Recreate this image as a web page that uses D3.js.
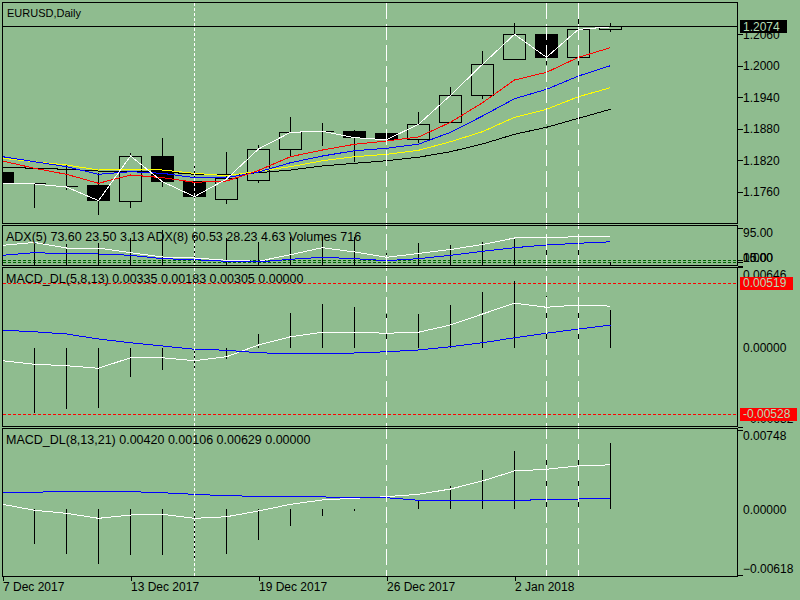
<!DOCTYPE html>
<html>
<head>
  <meta charset="UTF-8" />
  <title>EURUSD,Daily</title>
  <script src="https://d3js.org/d3.v7.min.js"></script>
  <style>
    body { margin: 0; background: #8fbc8f; }
    svg { display: block; shape-rendering: crispEdges; }
    text { font-family: "Liberation Sans", Arial, sans-serif; }
  </style>
</head>
<body>
  <svg id="chart" width="800" height="600"></svg>
  <script>
    // ---- data ----
    const dates = ["7 Dec 2017", "8 Dec 2017", "11 Dec 2017", "12 Dec 2017", "13 Dec 2017",
      "14 Dec 2017", "15 Dec 2017", "18 Dec 2017", "19 Dec 2017", "20 Dec 2017",
      "21 Dec 2017", "22 Dec 2017", "26 Dec 2017", "27 Dec 2017", "28 Dec 2017",
      "29 Dec 2017", "2 Jan 2018", "3 Jan 2018", "4 Jan 2018", "5 Jan 2018"];

    const open  = [1.17970, 1.17760, 1.17700, 1.17709, 1.17410, 1.18261, 1.17790, 1.17455, 1.17817, 1.18408,
                   1.18740, 1.18756, 1.18718, 1.18598, 1.18922, 1.19429, 1.20122, 1.20598, 1.20160, 1.20693];
    const high  = [1.18050, 1.17771, 1.18122, 1.17950, 1.18331, 1.18629, 1.18128, 1.18350, 1.18490, 1.19023,
                   1.18903, 1.18775, 1.18800, 1.19118, 1.19594, 1.20280, 1.20819, 1.20680, 1.20922, 1.20808];
    const low   = [1.17700, 1.17295, 1.17632, 1.17156, 1.17295, 1.17695, 1.17442, 1.17366, 1.17771, 1.18286,
                   1.18476, 1.18171, 1.18528, 1.18533, 1.18900, 1.19366, 1.20110, 1.20013, 1.20013, 1.20648];
    const close = [1.17752, 1.17747, 1.17690, 1.17429, 1.18280, 1.17790, 1.17505, 1.17842, 1.18413, 1.18731,
                   1.18750, 1.18629, 1.18590, 1.18884, 1.19436, 1.20027, 1.20598, 1.20160, 1.20693, 1.20740];

    // moving averages on the price window
    const maRed    = [1.18185, 1.18046, 1.17931, 1.17760, 1.17918, 1.17867, 1.17779, 1.17804, 1.18004, 1.18267,
                      1.18394, 1.18503, 1.18566, 1.18642, 1.18922, 1.19295, 1.19728, 1.19874, 1.20160, 1.20343];
    const maBlue   = [1.18267, 1.18171, 1.18076, 1.17931, 1.17981, 1.17950, 1.17867, 1.17867, 1.17975, 1.18152,
                      1.18280, 1.18381, 1.18427, 1.18505, 1.18731, 1.19042, 1.19371, 1.19550, 1.19804, 1.20000];
    const maYellow = [1.18236, 1.18171, 1.18109, 1.18013, 1.18032, 1.18013, 1.17950, 1.17905, 1.17989, 1.18076,
                      1.18190, 1.18267, 1.18312, 1.18389, 1.18552, 1.18743, 1.19017, 1.19170, 1.19410, 1.19581];
    const maBlack  = [1.18065, 1.18046, 1.18027, 1.17994, 1.17994, 1.17981, 1.17931, 1.17918, 1.17962, 1.18013,
                      1.18090, 1.18141, 1.18190, 1.18257, 1.18362, 1.18509, 1.18693, 1.18827, 1.18998, 1.19170];

    const priceTicks = [1.2060, 1.2000, 1.1940, 1.1880, 1.1820, 1.1760];
    const bidPrice = 1.2074;

    // ADX window
    const adx5 = [51.8, 58.8, 45, 45, 33.3, 22.5, 20, 14.3, 11.8, 28.3,
                  45.8, 35, 21.8, 31.3, 41.3, 53.8, 70, 71.5, 73, 73.6];
    const adx8 = [26.8, 33.3, 30.8, 30, 26.8, 18.3, 15.8, 11.8, 10, 16.8,
                  21.8, 18.3, 13.3, 18.3, 26.8, 36.8, 45.8, 52.5, 56.8, 60.53];
    const volumes = [5000, 4730, 4660, 4880, 6140, 7880, 6530, 6010, 5180, 6300,
                     6290, 6310, 2630, 4950, 4500, 5180, 6300, 5850, 6980, 716];
    const adxLevels = [15, 10];
    const adxTicks = [95, 15, 10, 0];

    // MACD_DL(5,8,13)
    const macd1Main   = [-0.00102, -0.00130, -0.00142, -0.00162, -0.00078, -0.00078, -0.00102, -0.00070, 0.00024, 0.00090,
                         0.00126, 0.00126, 0.00118, 0.00126, 0.00184, 0.00272, 0.00358, 0.00326, 0.00344, 0.00335];
    const macd1Signal = [0.00142, 0.00130, 0.00112, 0.00072, 0.00042, 0.00016, -0.00010, -0.00018, -0.00038, -0.00046,
                         -0.00046, -0.00040, -0.00030, -0.00016, 0.00010, 0.00042, 0.00082, 0.00118, 0.00152, 0.00183];
    const macd1Hist   = [-0.00528, -0.00518, -0.00486, -0.00478, -0.00230, -0.00176, -0.00184, -0.00088, 0.00112, 0.00280,
                         0.00352, 0.00328, 0.00272, 0.00272, 0.00344, 0.00448, 0.00536, 0.00418, 0.00392, 0.00305];
    const macd1Levels = [0.00519, -0.00528];
    const macd1Ticks = [0.00646, 0, -0.00632];

    // MACD_DL(8,13,21)
    const macd2Main   = [0.00048, -0.00008, -0.00037, -0.00084, -0.00053, -0.00046, -0.00084, -0.00069, -0.00015, 0.00048,
                         0.00089, 0.00105, 0.00120, 0.00142, 0.00192, 0.00268, 0.00362, 0.00378, 0.00410, 0.00420];
    const macd2Signal = [0.00155, 0.00161, 0.00171, 0.00171, 0.00167, 0.00157, 0.00142, 0.00129, 0.00123, 0.00120,
                         0.00117, 0.00114, 0.00110, 0.00086, 0.00086, 0.00086, 0.00086, 0.00091, 0.00098, 0.00106];
    const macd2Hist   = [-0.00250, -0.00329, -0.00417, -0.00512, -0.00427, -0.00427, -0.00461, -0.00417, -0.00288, -0.00154,
                         -0.00059, -0.00015, 0.00020, 0.00089, 0.00220, 0.00374, 0.00550, 0.00569, 0.00620, 0.00629];
    const macd2Ticks = [0.00748, 0, -0.00618];

    const dateTicks = ["7 Dec 2017", "13 Dec 2017", "19 Dec 2017", "26 Dec 2017", "2 Jan 2018"];
    const dotLineDates = ["15 Dec 2017"];
    const dashLineDates = ["26 Dec 2017", "3 Jan 2018", "4 Jan 2018"];

    // ---- layout ----
    const svg = d3.select("#chart");
    const left = 2.5, right = 737.5;
    const panels = {
      main:  { top: 2.5,   bottom: 223.5 },
      adx:   { top: 225.5, bottom: 265.5 },
      macd1: { top: 267.5, bottom: 426.5 },
      macd2: { top: 428.5, bottom: 576.5 }
    };
    const labelColor = "#b4dcb4";

    svg.append("rect").attr("width", 800).attr("height", 600).attr("fill", "#8fbc8f");

    // ---- scales ----
    const x = d3.scalePoint().domain(dates).range([2.5, 610.5]);
    const yMain = d3.scaleLinear().domain([1.1760, 1.2000]).range([191.7, 65.7]);
    const yAdx = d3.scaleLinear().domain([0, 95]).range([266, 228]);
    const yVol = d3.scaleLinear().domain([0, 9000]).range([265, 225]);
    const yM1 = d3.scaleLinear().domain([0, 0.00646]).range([348, 267.25]);
    const yM2 = d3.scaleLinear().domain([0, 0.00748]).range([509.4, 430]);

    // clip paths per window
    const defs = svg.append("defs");
    Object.entries(panels).forEach(([k, p]) => {
      defs.append("clipPath").attr("id", "clip-" + k)
        .append("rect").attr("x", left + 0.5).attr("y", p.top + 0.5)
        .attr("width", right - left - 1).attr("height", p.bottom - p.top - 1);
    });
    const layer = k => svg.append("g").attr("clip-path", `url(#clip-${k})`);

    const lineOf = (arr, y) => d3.line().x((d, i) => x(dates[i])).y(d => y(d))(arr);
    function drawLine(g, arr, y, color) {
      g.append("path").attr("d", lineOf(arr, y))
        .attr("fill", "none").attr("stroke", color).attr("stroke-width", 1);
    }
    function drawLevel(g, v, y, color) {
      g.append("line").attr("x1", left).attr("x2", right)
        .attr("y1", y(v)).attr("y2", y(v))
        .attr("stroke", color).attr("stroke-dasharray", "3,2");
    }
    function drawHist(g, arr, y) {
      g.selectAll(null).data(arr).join("line")
        .attr("x1", (d, i) => x(dates[i])).attr("x2", (d, i) => x(dates[i]))
        .attr("y1", y(0)).attr("y2", d => y(d))
        .attr("stroke", "#000");
    }

    // ---- price window ----
    const gMain = layer("main");
    dates.forEach((dt, i) => {
      const cx = x(dt);
      const top = yMain(Math.max(open[i], close[i]));
      const bot = yMain(Math.min(open[i], close[i]));
      const bull = close[i] >= open[i];
      gMain.append("line").attr("x1", cx).attr("x2", cx)
        .attr("y1", yMain(high[i])).attr("y2", top).attr("stroke", "#000");
      gMain.append("line").attr("x1", cx).attr("x2", cx)
        .attr("y1", bot).attr("y2", yMain(low[i])).attr("stroke", "#000");
      if (bot - top < 1) {
        gMain.append("line").attr("x1", cx - 11).attr("x2", cx + 11)
          .attr("y1", top).attr("y2", top).attr("stroke", "#000");
      } else {
        gMain.append("rect").attr("x", cx - 11).attr("y", top)
          .attr("width", 22).attr("height", bot - top)
          .attr("fill", bull ? "none" : "#000").attr("stroke", "#000");
      }
    });
    drawLine(gMain, maBlack, yMain, "#000");
    drawLine(gMain, maYellow, yMain, "#ffff00");
    drawLine(gMain, maBlue, yMain, "#0000ff");
    drawLine(gMain, maRed, yMain, "#ff0000");
    drawLine(gMain, close, yMain, "#ffffff");

    // ---- ADX window ----
    const gAdx = layer("adx");
    adxLevels.forEach(v => drawLevel(gAdx, v, yAdx, "#006400"));
    drawHist(gAdx, volumes, yVol);
    drawLine(gAdx, adx5, yAdx, "#ffffff");
    drawLine(gAdx, adx8, yAdx, "#0000ff");

    // ---- MACD windows ----
    const gM1 = layer("macd1");
    macd1Levels.forEach(v => drawLevel(gM1, v, yM1, "#ff0000"));
    drawHist(gM1, macd1Hist, yM1);
    drawLine(gM1, macd1Main, yM1, "#ffffff");
    drawLine(gM1, macd1Signal, yM1, "#0000ff");

    const gM2 = layer("macd2");
    drawHist(gM2, macd2Hist, yM2);
    drawLine(gM2, macd2Main, yM2, "#ffffff");
    drawLine(gM2, macd2Signal, yM2, "#0000ff");

    // vertical separators
    const gV = svg.append("g");
    gV.selectAll(null).data(dotLineDates).join("line")
      .attr("x1", d => x(d)).attr("x2", d => x(d))
      .attr("y1", panels.main.top).attr("y2", panels.macd2.bottom)
      .attr("stroke", "#fff").attr("stroke-dasharray", "3,2");
    gV.selectAll(null).data(dashLineDates).join("line")
      .attr("x1", d => x(d)).attr("x2", d => x(d))
      .attr("y1", panels.main.top).attr("y2", panels.macd2.bottom)
      .attr("stroke", "#fff").attr("stroke-dasharray", "16,5");

    // bid line
    svg.append("line").attr("x1", left).attr("x2", right)
      .attr("y1", yMain(bidPrice)).attr("y2", yMain(bidPrice)).attr("stroke", "#000");

    // window frames
    Object.values(panels).forEach(p => {
      svg.append("rect").attr("x", left).attr("y", p.top)
        .attr("width", right - left).attr("height", p.bottom - p.top)
        .attr("fill", "none").attr("stroke", "#000");
    });

    // ---- right axes ----
    function drawRightAxis(scale, values, fmt, p, hideZeroTick) {
      const g = svg.append("g").attr("transform", `translate(${right},0)`)
        .call(d3.axisRight(scale).tickValues(values).tickSize(5).tickPadding(0.5).tickFormat(fmt));
      g.attr("font-size", 12);
      g.select(".domain").remove();
      g.selectAll(".tick text").attr("fill", "#000")
        .attr("y", d => {
          const y = scale(d);
          return Math.min(Math.max(y, p.top + 7), p.bottom - 7.5) - y;
        });
      if (hideZeroTick) g.selectAll(".tick line").filter(d => d === 0).remove();
      return g;
    }
    drawRightAxis(yMain, priceTicks, d3.format(".4f"), panels.main, false);
    drawRightAxis(yAdx, adxTicks, d3.format(".2f"), panels.adx, false);
    drawRightAxis(yM1, macd1Ticks, d3.format(".5f"), panels.macd1, true);
    drawRightAxis(yM2, macd2Ticks, d3.format(".5f"), panels.macd2, true);

    // price tags
    function priceTag(y, text, bg) {
      const g = svg.append("g");
      const rect = g.append("rect").attr("x", 740).attr("y", y - 6.5).attr("height", 13).attr("fill", bg);
      const t = g.append("text").attr("x", 743).attr("y", y + 4.3)
        .attr("font-size", 12).attr("fill", labelColor).text(text);
      rect.attr("width", t.node().getComputedTextLength() + 10);
    }
    priceTag(yMain(bidPrice), d3.format(".4f")(bidPrice), "#000");
    macd1Levels.forEach(v => priceTag(yM1(v), d3.format(".5f")(v).replace("−", "-"), "#ff0000"));

    // ---- time axis ----
    const gx = svg.append("g").attr("transform", `translate(0,${panels.macd2.bottom})`)
      .call(d3.axisBottom(x).tickValues(dateTicks).tickSize(4).tickPadding(1.5));
    gx.attr("font-size", 12);
    gx.select(".domain").remove();
    gx.selectAll(".tick text").attr("text-anchor", "start").attr("fill", "#000");

    // ---- window titles ----
    const titles = [
      { text: "EURUSD,Daily", y: 16.5, size: 11, x: 7 },
      { text: "ADX(5) 73.60 23.50 3.13 ADX(8) 60.53 28.23 4.63 Volumes 716", y: 240.5, size: 12.5, x: 6 },
      { text: "MACD_DL(5,8,13) 0.00335 0.00183 0.00305 0.00000", y: 282.5, size: 12.5, x: 6 },
      { text: "MACD_DL(8,13,21) 0.00420 0.00106 0.00629 0.00000", y: 444, size: 12.5, x: 6 }
    ];
    svg.selectAll(null).data(titles).join("text")
      .attr("x", d => d.x).attr("y", d => d.y)
      .attr("font-size", d => d.size).attr("fill", "#000")
      .text(d => d.text);
  </script>
</body>
</html>
